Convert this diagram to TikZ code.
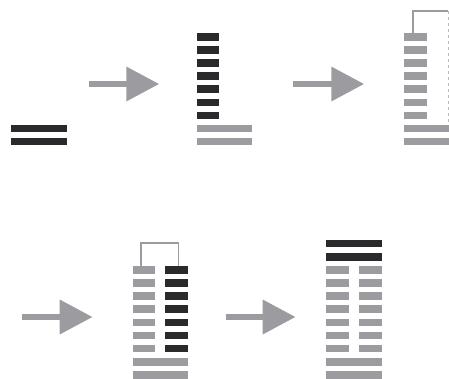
\documentclass[tikz,border=0pt]{standalone}
\usetikzlibrary{arrows.meta,positioning}
\definecolor{bardark}{RGB}{42,42,44}
\definecolor{bargray}{RGB}{156,156,160}

\begin{document}
\begin{tikzpicture}[x=1pt, y=-1pt,
    bar/.style={fill=#1, inner sep=0pt, minimum height=7.5pt, anchor=west},
    short/.style={bar=#1, minimum width=22.3pt},
    wide/.style={bar=#1, minimum width=55.3pt},
    blockarrow/.style={draw=bargray, line width=6.7pt, -{Triangle[length=33pt, width=33pt]}},
    link/.style={draw=bargray, line width=1.4pt}
]
\useasboundingbox (0,0) rectangle (449,378);
\clip (0,0) rectangle (449,378);

% first stack
\node[wide=bardark] (a1) at (11,128.6) {};
\node[wide=bardark] (a2) at (11,141.7) {};

% second stack
\foreach \i in {1,...,7}
  \node[short=bardark] (b\i) at (196.7,23.7+13.1*\i) {};
\node[wide=bargray] (bw1) at (196.7,128.6) {};
\node[wide=bargray] (bw2) at (196.7,141.7) {};

% third stack
\foreach \i in {1,...,7}
  \node[short=bargray] (c\i) at (404,23.7+13.1*\i) {};
\node[wide=bargray] (cw1) at (404,128.6) {};
\node[wide=bargray] (cw2) at (404,141.7) {};
\coordinate (ctop) at (448.3,11);
\draw[link] ([xshift=-2.5pt]c1.north) |- (ctop);
\draw[bargray!70, line width=0.9pt, dashed] (ctop) -- (ctop |- cw1.north);

% fourth stack
\foreach \i in {1,...,7} {
  \node[short=bargray] (d\i) at (132.3,256.6+13.15*\i) {};
  \node[short=bardark] (e\i) at (165,256.6+13.15*\i) {};
}
\node[wide=bargray] (dw1) at (132.3,361.9) {};
\node[wide=bargray] (dw2) at (132.3,375.1) {};
\draw[link] ([xshift=-2.5pt]d1.north) -- ++(0,-22.7) -| ([xshift=2pt]e1.north);

% fifth stack
\node[wide=bardark] (f1) at (326,243.5) {};
\node[wide=bardark] (f2) at (326,256.8) {};
\foreach \i in {1,...,7} {
  \node[short=bargray] (g\i) at (326,256.6+13.15*\i) {};
  \node[short=bargray] (h\i) at (359,256.6+13.15*\i) {};
}
\node[wide=bargray] (fw1) at (326,361.9) {};
\node[wide=bargray] (fw2) at (326,375.1) {};

% arrows
\coordinate (s1) at (89,84);    \coordinate (t1) at (159.3,84);
\coordinate (s2) at (293.3,84); \coordinate (t2) at (364.3,84);
\coordinate (s3) at (22.3,317); \coordinate (t3) at (92.7,317);
\coordinate (s4) at (225.7,317); \coordinate (t4) at (295.7,317);
\draw[blockarrow] (s1) -- (t1);
\draw[blockarrow] (s2) -- (t2);
\draw[blockarrow] (s3) -- (t3);
\draw[blockarrow] (s4) -- (t4);
\end{tikzpicture}
\end{document}
